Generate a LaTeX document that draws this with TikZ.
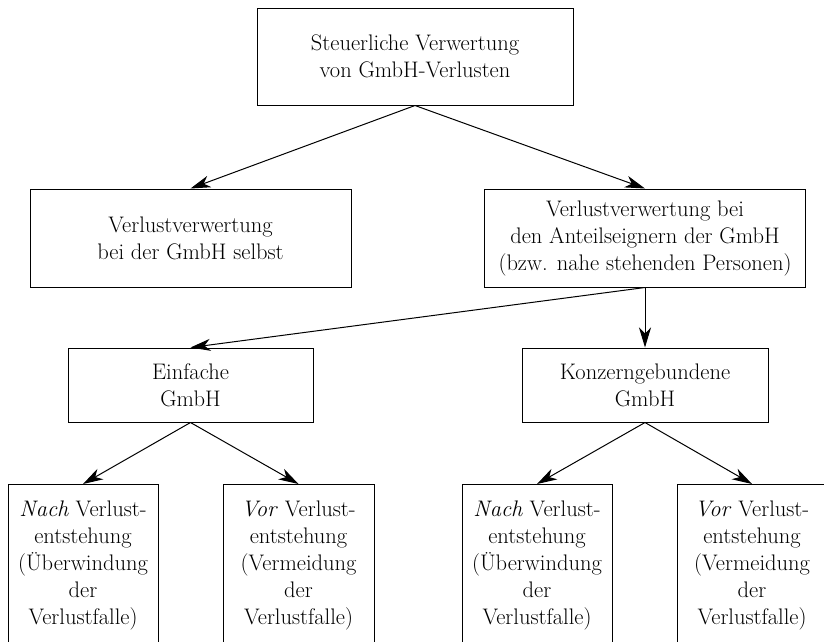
\documentclass[tikz,border=0pt]{standalone}
\usepackage{fontspec}
\usetikzlibrary{arrows.meta}
\begin{document}
\begin{tikzpicture}[x=1pt,y=-1pt,
  box/.style={draw, line width=1pt, align=center, inner sep=0pt,
    font=\fontsize{22.5}{27}\selectfont},
  arr/.style={line width=1pt, -{Stealth[length=20pt,width=12pt,inset=6pt]}}]
\useasboundingbox (0,0) rectangle (824,641);
\clip (0,0) rectangle (824,641);
\node[box, minimum width=316pt, minimum height=97pt] (top) at (415,56.5)
  {Steuerliche Verwertung\\von GmbH-Verlusten};
\node[box, minimum width=321pt, minimum height=98pt] (left) at (190.5,238)
  {Verlustverwertung\\bei der GmbH selbst};
\node[box, minimum width=321pt, minimum height=98pt] (right) at (645,238)
  {Verlustverwertung bei\\den Anteilseignern der GmbH\\(bzw. nahe stehenden Personen)};
\node[box, minimum width=245pt, minimum height=74pt] (einf) at (190.5,385)
  {Einfache\\GmbH};
\node[box, minimum width=246pt, minimum height=74pt] (konz) at (645,385)
  {Konzerngebundene\\GmbH};
\node[box, minimum width=150pt, minimum height=162pt, anchor=north] (b1) at (83,484)
  {\textit{Nach} Verlust-\\entstehung\\(Überwindung\\der\\Verlustfalle)};
\node[box, minimum width=151pt, minimum height=162pt, anchor=north] (b2) at (298.5,484)
  {\textit{Vor} Verlust-\\entstehung\\(Vermeidung\\der\\Verlustfalle)};
\node[box, minimum width=150pt, minimum height=162pt, anchor=north] (b3) at (537,484)
  {\textit{Nach} Verlust-\\entstehung\\(Überwindung\\der\\Verlustfalle)};
\node[box, minimum width=150pt, minimum height=162pt, anchor=north] (b4) at (752,484)
  {\textit{Vor} Verlust-\\entstehung\\(Vermeidung\\der\\Verlustfalle)};
\draw[arr] (top.south) -- (left.north);
\draw[arr] (top.south) -- (right.north);
\draw[arr] (right.south) -- (einf.north);
\draw[arr] (right.south) -- (konz.north);
\draw[arr] (einf.south) -- (b1.north);
\draw[arr] (einf.south) -- (b2.north);
\draw[arr] (konz.south) -- (b3.north);
\draw[arr] (konz.south) -- (b4.north);
\end{tikzpicture}
\end{document}
